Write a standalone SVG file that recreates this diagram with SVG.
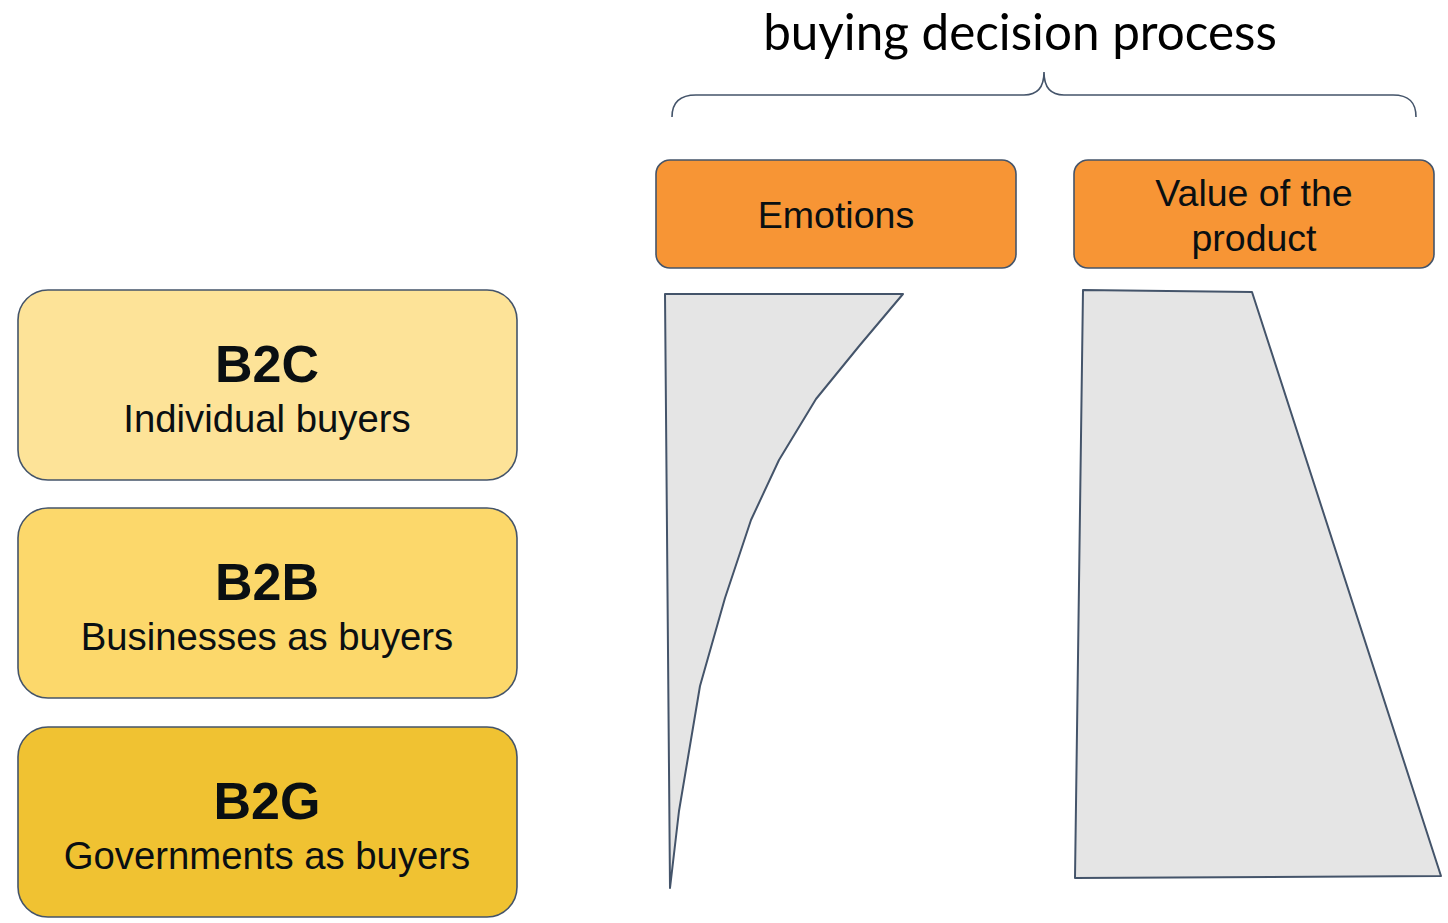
<svg xmlns="http://www.w3.org/2000/svg" width="1448" height="923" viewBox="0 0 1448 923">
  <style>
    .box { stroke: #44546A; stroke-width: 1.6; }
    .shape { fill: #E5E5E5; stroke: #44546A; stroke-width: 2; stroke-linejoin: round; }
    .t { font-family: "Liberation Sans", Arial, sans-serif; fill: #0A0F12; text-anchor: middle; }
    .big { font-size: 52px; font-weight: bold; }
    .sub { font-size: 38.3px; }
    .lbl { font-size: 37.5px; }
    .title { font-family: Lato, "Open Sans", sans-serif; font-size: 49.4px; fill: #000; text-anchor: middle; }
  </style>
  <rect width="1448" height="923" fill="#FFFFFF"/>

  <!-- heading and brace over the two factor boxes -->
  <g id="heading">
    <text class="title" x="1020" y="50">buying decision process</text>
    <path d="M672,117 C672,102 680,95 696,95 L1024,95 C1037,95 1044,88 1044,72 C1044,88 1051,95 1064,95 L1393,95 C1409,95 1416,102 1416,117" fill="none" stroke="#44546A" stroke-width="1.6"/>
  </g>

  <!-- buyer segments -->
  <g id="b2c">
    <rect class="box" x="18" y="290" width="499" height="190" rx="30" fill="#FDE398"/>
    <text class="t big" x="267" y="382">B2C</text>
    <text class="t sub" x="267" y="432">Individual buyers</text>
  </g>
  <g id="b2b">
    <rect class="box" x="18" y="508" width="499" height="190" rx="30" fill="#FCD86B"/>
    <text class="t big" x="267" y="600">B2B</text>
    <text class="t sub" x="267" y="650">Businesses as buyers</text>
  </g>
  <g id="b2g">
    <rect class="box" x="18" y="727" width="499" height="190" rx="30" fill="#F0C232"/>
    <text class="t big" x="267" y="819">B2G</text>
    <text class="t sub" x="267" y="869">Governments as buyers</text>
  </g>

  <!-- decision factors -->
  <g id="emotions">
    <rect class="box" x="656" y="160" width="360" height="108" rx="14" fill="#F79535"/>
    <text class="t lbl" x="836" y="228">Emotions</text>
  </g>
  <g id="value">
    <rect class="box" x="1074" y="160" width="360" height="108" rx="14" fill="#F79535"/>
    <text class="t lbl" x="1254" y="206">Value of the</text>
    <text class="t lbl" x="1254" y="251">product</text>
  </g>

  <!-- weight of each factor across the segments -->
  <g id="emotions-weight">
    <polygon class="shape" points="665,294 903,294 860,345 816,399 779,460 751,520 725,598 700,686 679,811 670,888"/>
  </g>
  <g id="value-weight">
    <polygon class="shape" points="1083,290 1252,292 1441,876 1075,878"/>
  </g>

  <g id="connectors"></g>
</svg>
